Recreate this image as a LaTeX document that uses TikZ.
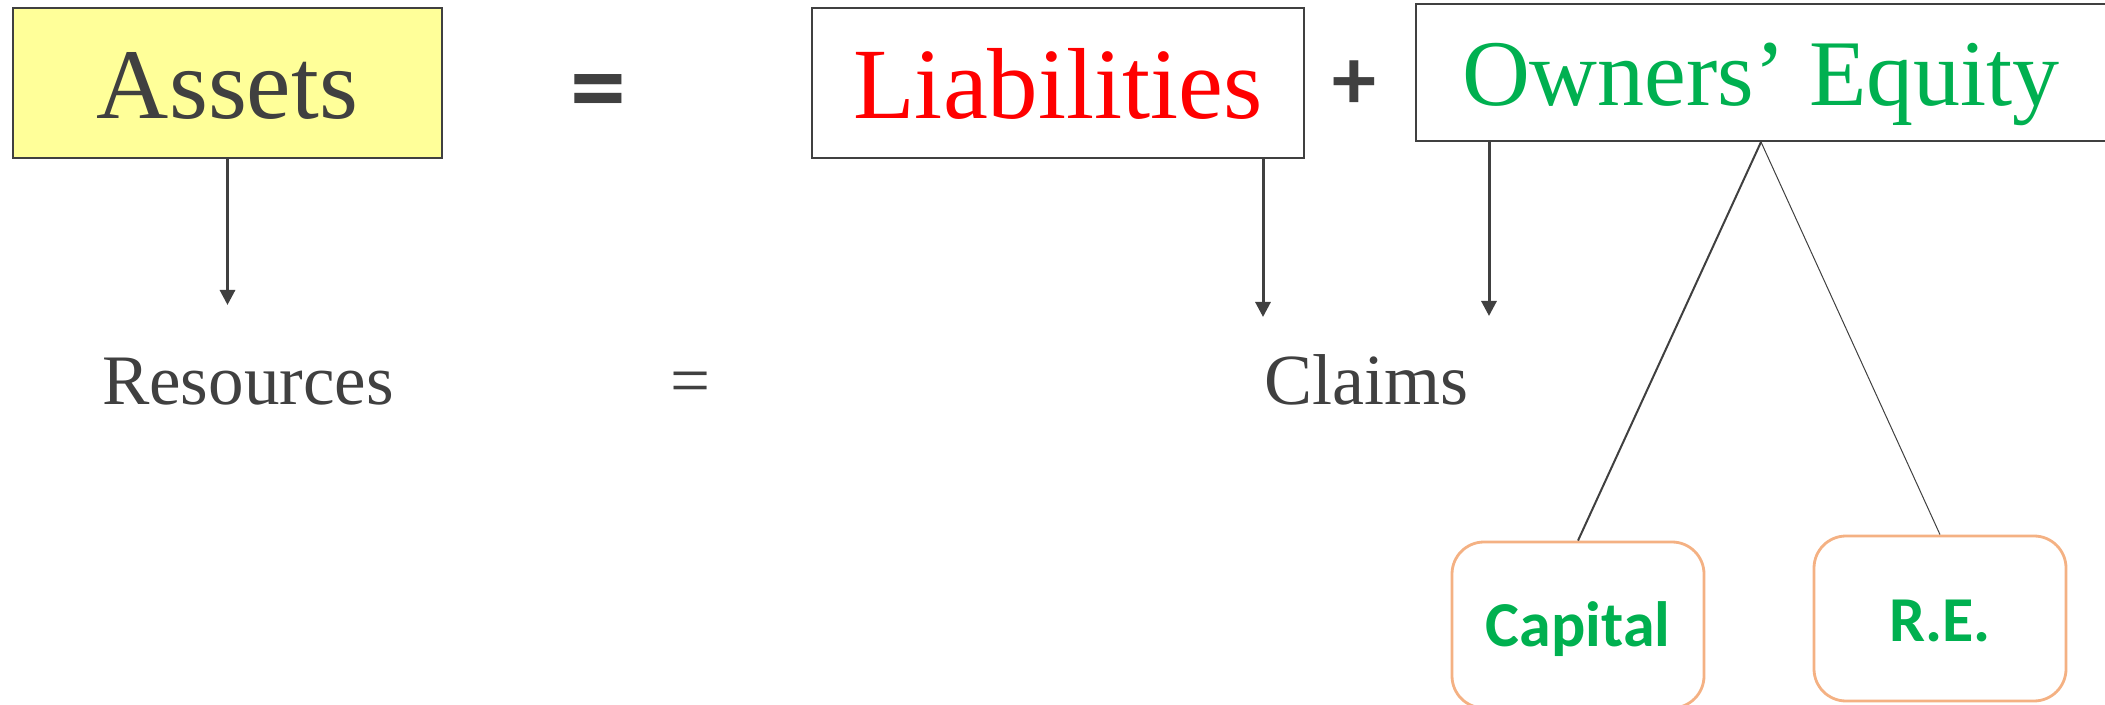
\documentclass[tikz,border=0pt]{standalone}
\usepackage{fontspec}
\setmainfont{Liberation Serif}
\newfontfamily\calibfont{Carlito}
\usetikzlibrary{arrows.meta}
\definecolor{ink}{HTML}{404040}
\definecolor{boxfill}{HTML}{FFFF99}
\definecolor{liabred}{HTML}{FF0000}
\definecolor{eqgreen}{HTML}{00B050}
\definecolor{peach}{HTML}{F4B183}

\begin{document}
\begin{tikzpicture}[x=0.5pt,y=-0.5pt,
  termbox/.style={draw=ink, line width=1pt, inner sep=0pt, text depth=0pt},
  wordlabel/.style={text=ink, inner sep=0pt, anchor=base, font=\fontsize{35.5}{35.5}\selectfont},
  opsign/.style={text=ink, inner sep=0pt, font=\calibfont\bfseries\fontsize{56}{56}\selectfont},
  down/.style={draw=ink, line width=1.5pt, -{Triangle[width=7.5pt,length=7.5pt]}},
  partbox/.style={draw=peach, line width=1.4pt, rounded corners=16pt, minimum width=126pt,
    inner sep=0pt, text depth=0pt, text=eqgreen, font=\calibfont\bfseries\fontsize{32}{32}\selectfont}
]
\useasboundingbox (0,0) rectangle (2105,705);
\clip (0,0) rectangle (2105,705);

% top row: the accounting equation
\node[termbox, fill=boxfill, minimum width=214.5pt, minimum height=75pt, text height=36pt,
  text=ink, font=\fontsize{50}{50}\selectfont] (assets) at (227.5,83) {Assets};
\node[opsign] (eqA) at (598,100) {=};
\node[termbox, minimum width=246pt, minimum height=75pt, text height=36pt,
  text=liabred, font=\fontsize{50.5}{50.5}\selectfont] (liab) at (1058,83) {Liabilities};
\node[opsign, font=\calibfont\bfseries\fontsize{44}{44}\selectfont] (plus) at (1354,85) {+};
\node[termbox, minimum width=345pt, minimum height=68.5pt, text height=33.5pt,
  text=eqgreen, font=\fontsize{47}{47}\selectfont] (equity) at (1761,72.5) {Owners’ Equity};

% second row: what each side means
\node[wordlabel] (resources) at (248,405) {Resources};
\node[wordlabel] (eqB) at (691,405) {=};
\node[wordlabel, font=\fontsize{36}{36}\selectfont] (claims) at (1366,405) {Claims};

% parts of owners' equity
\node[partbox, minimum height=83pt, text height=21pt] (capital) at (1578,625) {Capital};
\node[partbox, minimum height=82.5pt, text height=22.5pt] (re) at (1940,618.5) {R.E.};

% arrows down to the meanings
\coordinate (assetsTip) at (227.5,305);
\coordinate (liabTip) at (1263,317);
\coordinate (equityTip) at (1489,316);
\draw[down] (assets.south) -- (assetsTip);
\draw[down] (liab.south -| liabTip) -- (liabTip);
\draw[down] (equity.south -| equityTip) -- (equityTip);

% split of owners' equity
\draw[ink, line width=1pt] (equity.south) -- (capital.north);
\draw[ink, line width=0.5pt] (equity.south) -- (re.north);
\end{tikzpicture}
\end{document}
